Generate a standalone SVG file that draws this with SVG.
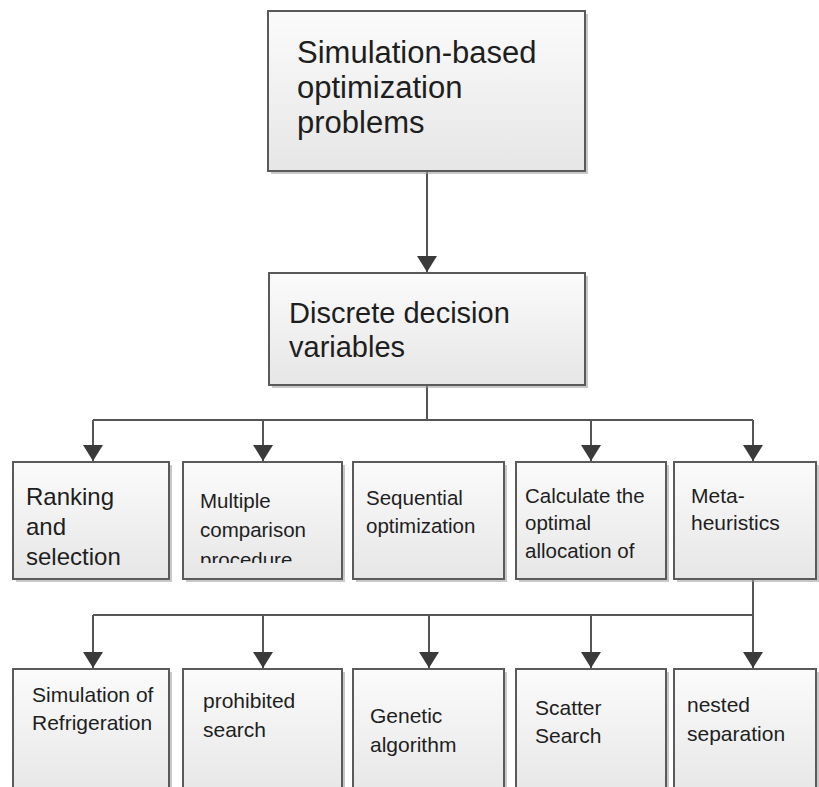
<svg xmlns="http://www.w3.org/2000/svg" width="819" height="787" viewBox="0 0 819 787">
<defs>
<linearGradient id="g" x1="0" y1="0" x2="0" y2="1">
<stop offset="0" stop-color="#fbfbfb"/>
<stop offset="1" stop-color="#e6e6e6"/>
</linearGradient>
<marker id="arr" viewBox="0 0 16 20" markerWidth="16" markerHeight="20" refX="16" refY="10" orient="auto" markerUnits="userSpaceOnUse">
<path d="M0,0 L16,10 L0,20 z" fill="#3a3a3a"/>
</marker>
<clipPath id="clipProc"><rect x="183" y="462" width="159" height="101"/></clipPath>
</defs>
<style>
.box{fill:url(#g);stroke:#5a5a5a;stroke-width:2}
.sh{fill:#9a9a9a;opacity:0.55}
.t{font-family:"Liberation Sans",Arial,sans-serif;fill:#1e1e1e}
.c{fill:none;stroke:#555;stroke-width:2}
.ca{fill:none;stroke:#555;stroke-width:2;marker-end:url(#arr)}
</style>
<rect width="819" height="787" fill="#ffffff"/>
<g id="connectors">
<path class="ca" d="M427,171 V272"/>
<path class="c" d="M427,385 V420 M93,420 H753"/>
<path class="ca" d="M93,420 V461"/>
<path class="ca" d="M263,420 V461"/>
<path class="ca" d="M591,420 V461"/>
<path class="ca" d="M753,420 V461"/>
<path class="c" d="M753,579 V615 M93,615 H753"/>
<path class="ca" d="M93,615 V668"/>
<path class="ca" d="M263,615 V668"/>
<path class="ca" d="M429,615 V668"/>
<path class="ca" d="M591,615 V668"/>
<path class="ca" d="M753,615 V668"/>
</g>
<g id="n-sim" class="t">
<rect class="sh" x="271" y="14" width="317" height="160"/>
<rect class="box" x="268" y="11" width="317" height="160"/>
<text font-size="31" x="297" y="63">Simulation-based</text>
<text font-size="31" x="297" y="98">optimization</text>
<text font-size="31" x="297" y="133">problems</text>
</g>
<g id="n-discrete" class="t">
<rect class="sh" x="272" y="276" width="316" height="112"/>
<rect class="box" x="269" y="273" width="316" height="112"/>
<text font-size="29" x="289" y="323">Discrete decision</text>
<text font-size="29" x="289" y="357">variables</text>
</g>
<g id="n-ranking" class="t">
<rect class="sh" x="16" y="465" width="156" height="117"/>
<rect class="box" x="13" y="462" width="156" height="117"/>
<text font-size="24" x="26" y="505">Ranking</text>
<text font-size="24" x="26" y="535">and</text>
<text font-size="24" x="26" y="565">selection</text>
</g>
<g id="n-multiple" class="t">
<rect class="sh" x="186" y="465" width="159" height="117"/>
<rect class="box" x="183" y="462" width="159" height="117"/>
<text font-size="20.5" x="200" y="508">Multiple</text>
<text font-size="20.5" x="200" y="537">comparison</text>
<text font-size="20.5" x="200" y="567" clip-path="url(#clipProc)">procedure</text>
</g>
<g id="n-sequential" class="t">
<rect class="sh" x="356" y="465" width="151" height="117"/>
<rect class="box" x="353" y="462" width="151" height="117"/>
<text font-size="20.5" x="366" y="505">Sequential</text>
<text font-size="20.5" x="366" y="533">optimization</text>
</g>
<g id="n-calculate" class="t">
<rect class="sh" x="519" y="465" width="150" height="117"/>
<rect class="box" x="516" y="462" width="150" height="117"/>
<text font-size="20.5" x="525" y="503">Calculate the</text>
<text font-size="20.5" x="525" y="530">optimal</text>
<text font-size="20.5" x="525" y="558">allocation of</text>
</g>
<g id="n-meta" class="t">
<rect class="sh" x="677" y="465" width="142" height="117"/>
<rect class="box" x="674" y="462" width="142" height="117"/>
<text font-size="21" x="691" y="503">Meta-</text>
<text font-size="21" x="691" y="530">heuristics</text>
</g>
<g id="n-refrig" class="t">
<rect class="sh" x="16" y="672" width="156" height="130"/>
<rect class="box" x="13" y="669" width="156" height="130"/>
<text font-size="21" x="32" y="702">Simulation of</text>
<text font-size="21" x="32" y="730">Refrigeration</text>
</g>
<g id="n-prohibited" class="t">
<rect class="sh" x="186" y="672" width="159" height="130"/>
<rect class="box" x="183" y="669" width="159" height="130"/>
<text font-size="21" x="203" y="708">prohibited</text>
<text font-size="21" x="203" y="737">search</text>
</g>
<g id="n-genetic" class="t">
<rect class="sh" x="356" y="672" width="151" height="130"/>
<rect class="box" x="353" y="669" width="151" height="130"/>
<text font-size="21" x="370" y="723">Genetic</text>
<text font-size="21" x="370" y="752">algorithm</text>
</g>
<g id="n-scatter" class="t">
<rect class="sh" x="519" y="672" width="150" height="130"/>
<rect class="box" x="516" y="669" width="150" height="130"/>
<text font-size="21" x="535" y="715">Scatter</text>
<text font-size="21" x="535" y="743">Search</text>
</g>
<g id="n-nested" class="t">
<rect class="sh" x="677" y="672" width="142" height="130"/>
<rect class="box" x="674" y="669" width="142" height="130"/>
<text font-size="21" x="687" y="712">nested</text>
<text font-size="21" x="687" y="741">separation</text>
</g>
</svg>
